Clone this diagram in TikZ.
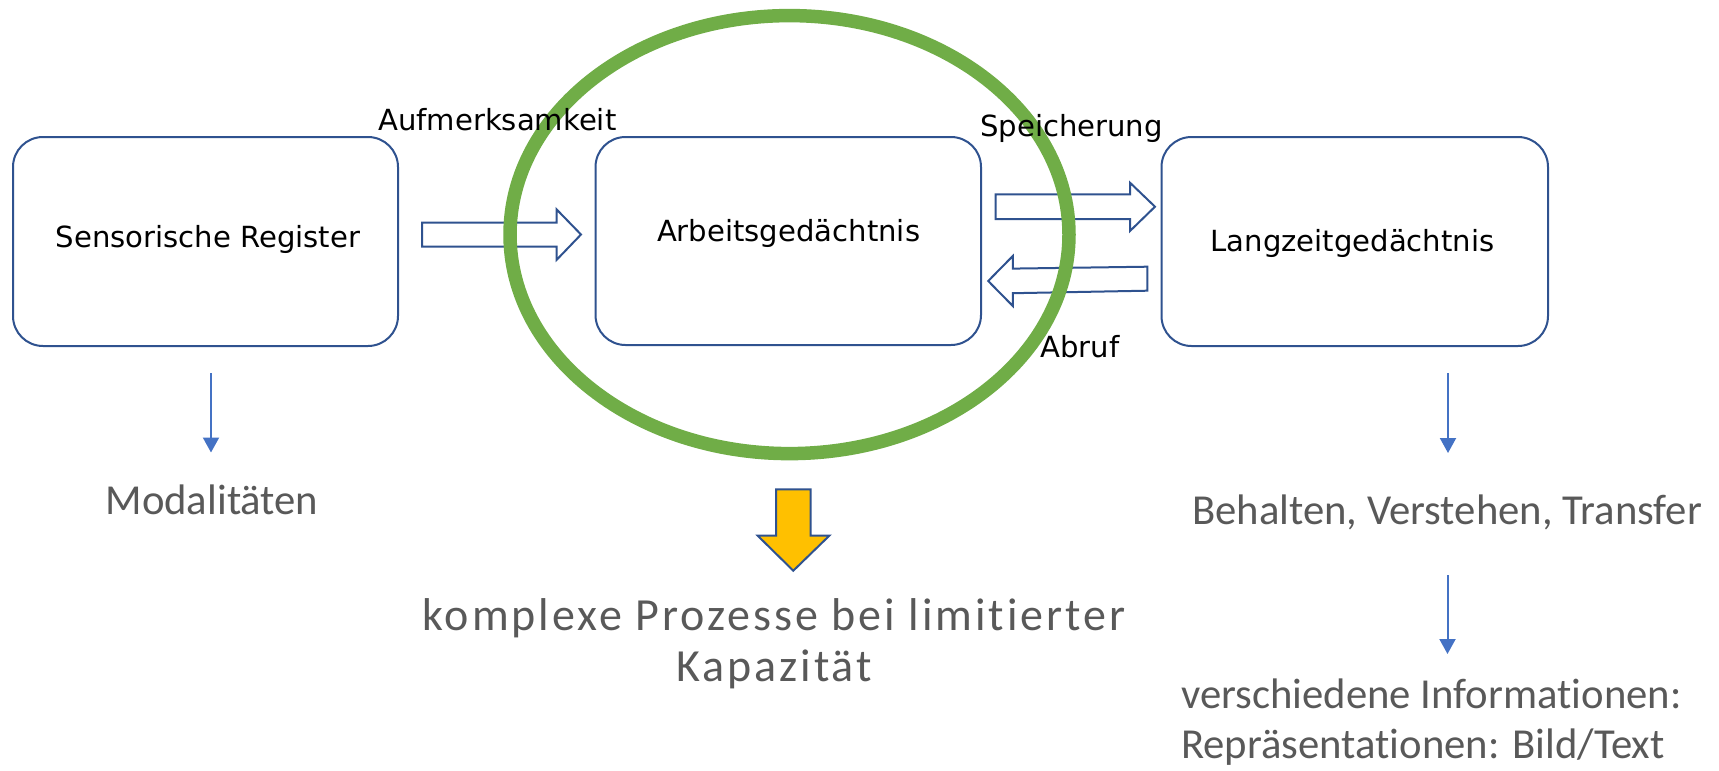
\documentclass[tikz,border=0pt]{standalone}
\usepackage{fontspec}
\usetikzlibrary{arrows.meta}
\newfontfamily\lblfont{DejaVu Sans}
\newfontfamily\grayfont[RawFeature={-liga}]{Carlito}
\newfontfamily\spacedfont[LetterSpace=6.5,RawFeature={-liga}]{Carlito}
\definecolor{boxblue}{HTML}{2F528F}
\definecolor{arrowblue}{HTML}{4472C4}
\definecolor{ringgreen}{HTML}{70AD47}
\definecolor{gold}{HTML}{FFC000}
\definecolor{txtgray}{HTML}{595959}
\tikzset{
  membox/.style={draw=boxblue, line width=2pt, rounded corners=30pt, fill=white, inner sep=0pt},
  blockarrow/.style={draw=boxblue, line width=2pt, fill=white, line join=miter},
  lbl/.style={font=\lblfont\fontsize{29.1}{34}\selectfont, text=black, inner sep=0pt},
  graytxt/.style={font=\grayfont\fontsize{42.7}{50}\selectfont, text=txtgray, inner sep=0pt},
  bigtxt/.style={font=\spacedfont\fontsize{46}{50}\selectfont, text=txtgray, inner sep=0pt},
  smallarrow/.style={draw=arrowblue, line width=2pt, -{Triangle[width=16pt,length=15pt]}},
}
\begin{document}
\begin{tikzpicture}[x=1pt, y=-1pt]
\useasboundingbox (0,0) rectangle (1719,771);
% boxes
\node[membox, minimum width=385pt, minimum height=209pt] (sr) at (205.5,241.5) {};
\node[membox, minimum width=385.5pt, minimum height=208pt] (ag) at (788.25,241) {};
\node[membox, minimum width=386.5pt, minimum height=209pt] (lz) at (1354.75,241.5) {};
% box labels
\node[lbl, anchor=base] (srt) at (208,247.5) {Sensorische Register};
\node[lbl, anchor=base] (agt) at (788.6,241.7) {Arbeitsgedächtnis};
\node[lbl, anchor=base] (lzt) at (1352.5,251.7) {Langzeitgedächtnis};
% block arrows
\draw[blockarrow] (422,222.5) -- (556.5,222.5) -- (556.5,209.3) -- (581,234.5) -- (556.5,260) -- (556.5,246.7) -- (422,246.7) -- cycle;
\draw[blockarrow] (995.5,194.3) -- (1130,194.3) -- (1130,182.7) -- (1155,206.7) -- (1130,231) -- (1130,219) -- (995.5,219) -- cycle;
\draw[blockarrow] (1147.3,266.7) -- (1012.8,268.6) -- (1012.8,256) -- (988.2,281) -- (1012.8,306) -- (1012.8,293.2) -- (1147.3,290.7) -- cycle;
% green ellipse
\draw[ringgreen, line width=13.5pt] (789.5,234.6) ellipse [x radius=279.5, y radius=219];
% arrow labels
\node[lbl, anchor=base west] (auf) at (378,130.7) {Aufmerksamkeit};
\node[lbl, anchor=base west] (spe) at (980,136) {Speicherung};
\node[lbl, anchor=base west] (abr) at (1040,357) {Abruf};
% yellow arrow
\draw[draw=boxblue, line width=2pt, fill=gold, line join=miter] (776,489.3) -- (810.7,489.3) -- (810.7,535.7) -- (829.3,535.7) -- (793.3,570.7) -- (757.7,535.7) -- (776,535.7) -- cycle;
% small arrows
\coordinate (m1) at (211,373);
\coordinate (m2) at (211,452.5);
\coordinate (b1) at (1448,373);
\coordinate (b2) at (1448,453);
\coordinate (v1) at (1447.5,575);
\coordinate (v2) at (1447.5,654);
\draw[smallarrow] (m1) -- (m2);
\draw[smallarrow] (b1) -- (b2);
\draw[smallarrow] (v1) -- (v2);
% gray texts
\node[graytxt, anchor=base] (mod) at (212,514) {Modalitäten};
\node[graytxt, anchor=base west] (beh) at (1192,524) {Behalten, Verstehen, Transfer};
\node[graytxt, anchor=base west] (ver) at (1181,708) {verschiedene Informationen:};
\node[graytxt, anchor=base west] (rep) at (1181,758) {Repräsentationen: Bild/Text};
\node[bigtxt, anchor=base] (kp1) at (774,630) {komplexe Prozesse bei limitierter};
\node[bigtxt, anchor=base] (kp2) at (774,681) {Kapazität};
\end{tikzpicture}
\end{document}
